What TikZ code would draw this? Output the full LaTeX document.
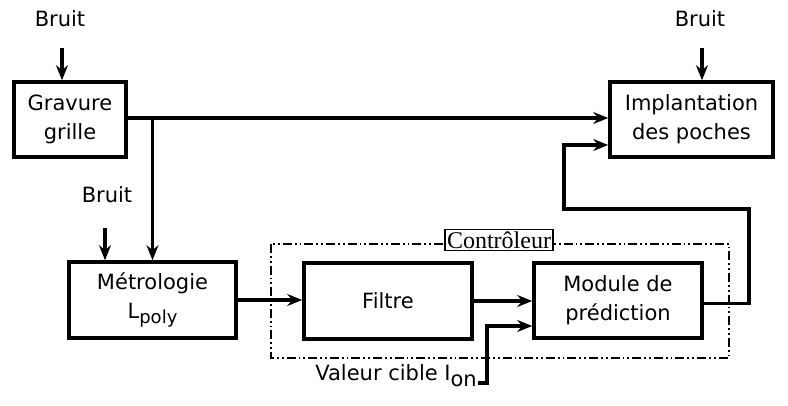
\documentclass[tikz,border=0pt]{standalone}
\usepackage{fontspec}
\setmainfont{DejaVu Sans}
\newfontfamily\serifl{Liberation Serif}
\usetikzlibrary{arrows.meta}
\begin{document}
\begin{tikzpicture}[x=1pt,y=-1pt,
  blk/.style={draw,line width=3.6pt,minimum width=#1,align=center,font=\fontsize{21}{29}\selectfont,inner sep=0pt},
  blk/.default=112pt,
  lbl/.style={font=\fontsize{21}{23}\selectfont,inner sep=1pt},
  arr/.style={line width=3.2pt,-{Stealth[length=15pt,width=12pt,inset=5pt]}},
  dashdotbox/.style={line width=1.8pt,dash pattern=on 9pt off 3pt on 1.8pt off 3pt on 1.8pt off 3pt}]
\useasboundingbox (0,0) rectangle (788,405);
% blocks
\node[blk=112pt,minimum height=75pt] (grav) at (70,119.5) {Gravure\\grille};
\node[blk=163pt,minimum height=75pt] (impl) at (691.5,119.5) {Implantation\\des poches};
\node[blk=167pt,minimum height=76pt] (metro) at (152.5,300) {Métrologie\\L\raisebox{-0.5ex}{\fontsize{18}{18}\selectfont poly}};
% controller
\draw[dashdotbox] (271,244) rectangle (729,358);
\node[blk=168pt,minimum height=76pt] (filtre) at (388,301) {Filtre};
\node[blk=168pt,minimum height=75pt] (module) at (618,300.5) {Module de\\prédiction};
\node[draw,line width=1.2pt,fill=white,inner sep=2pt,font=\serifl\fontsize{24}{24}\selectfont] (ctrl) at (499,240) {Contrôleur};
% noise labels
\node[lbl] (b1) at (60,19) {Bruit};
\node[lbl] (b2) at (700,19) {Bruit};
\node[lbl] (b3) at (107,195) {Bruit};
\coordinate (b1a) at (62,48);
\coordinate (b2a) at (702,48);
\coordinate (b3a) at (105,228);
\draw[arr] (b1a) -- (b1a |- grav.north);
\draw[arr] (b2a) -- (b2a |- impl.north);
\draw[arr] (b3a) -- (b3a |- metro.north);
% main flow
\coordinate (g1) at ([yshift=1.5pt]grav.east);
\coordinate (br) at (g1 -| metro.north);
\draw[arr] (g1) -- (g1 -| impl.west);
\draw[arr] (br) -- (metro.north);
\draw[arr] (metro.east) -- (metro.east -| filtre.west);
\draw[arr] (filtre.east) -- (filtre.east -| module.west);
% target value
\node[lbl,anchor=base east] (val) at (478,380) {Valeur cible I\raisebox{-0.55ex}{on}};
\coordinate (v0) at (478,383);
\coordinate (v1) at (487,383);
\coordinate (v2) at (487,326);
\draw[arr] (v0) -- (v1) -- (v2) -- (v2 -| module.west);
% feedback
\coordinate (m1) at ([yshift=-3pt]module.east);
\coordinate (f1) at (749,209);
\coordinate (f2) at (564,209);
\coordinate (f3) at (564,145);
\draw[arr] (m1) -- (m1 -| f1) -- (f1) -- (f2) -- (f3) -- (f3 -| impl.west);
\end{tikzpicture}
\end{document}
